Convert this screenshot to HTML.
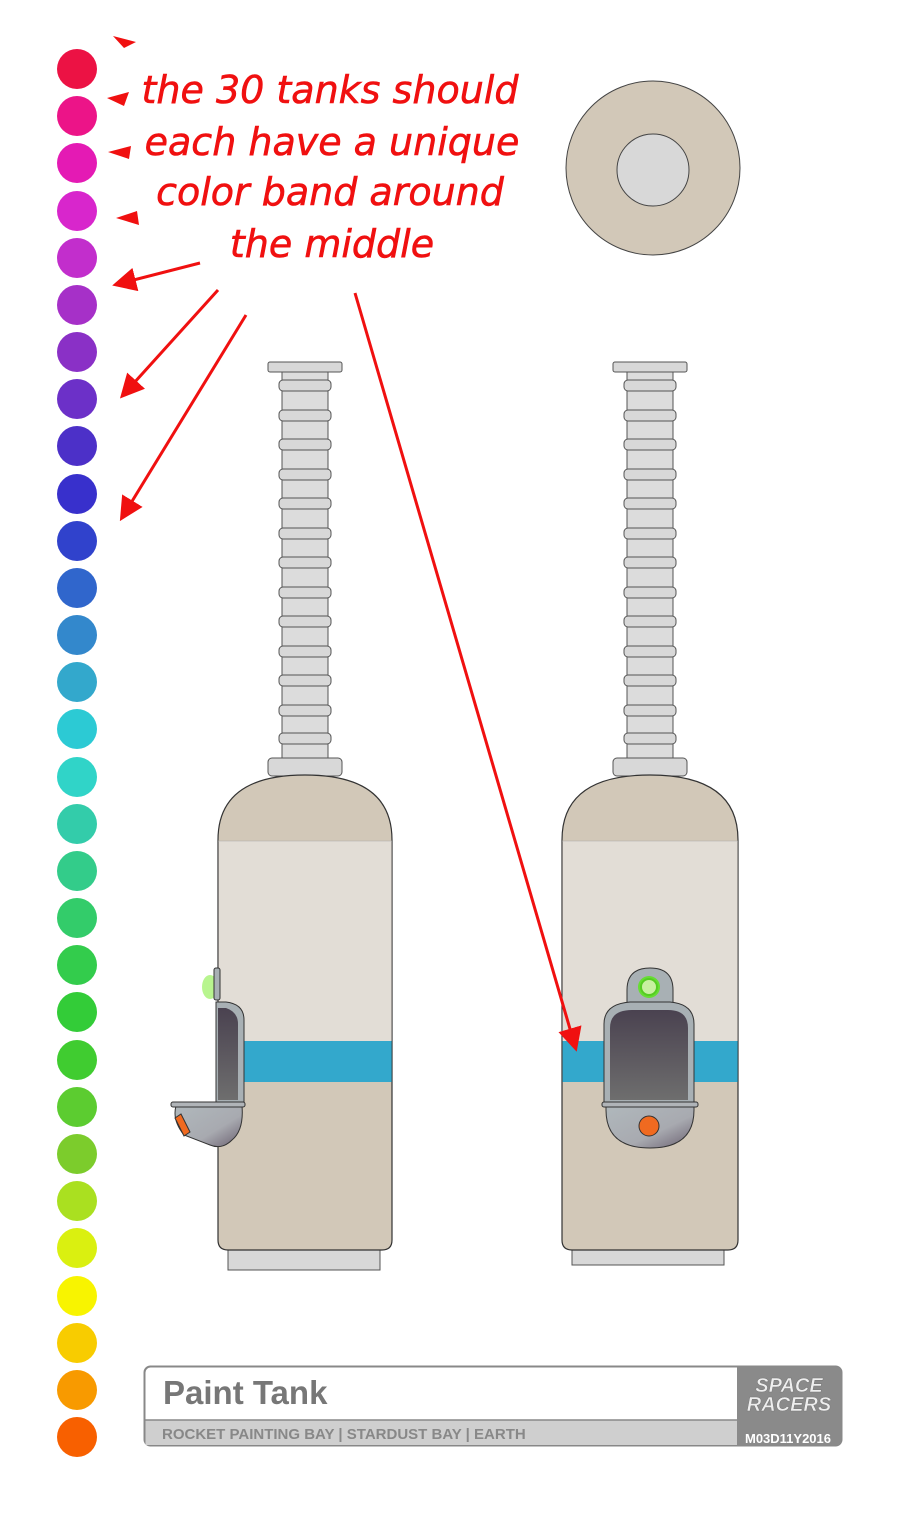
<!DOCTYPE html>
<html><head><style>
body{margin:0;background:#fff;}
svg{display:block}
</style></head><body>
<svg width="897" height="1530" viewBox="0 0 897 1530" xmlns="http://www.w3.org/2000/svg">
<defs>
<marker id="ah" markerWidth="8" markerHeight="8" refX="6" refY="4" orient="auto" markerUnits="strokeWidth">
<path d="M0,0 L8,4 L0,8 z" fill="#f01010"/></marker>
<linearGradient id="win" x1="0" y1="0" x2="0" y2="1"><stop offset="0" stop-color="#4a4250"/><stop offset="1" stop-color="#6e6e6e"/></linearGradient>
<linearGradient id="pod" x1="0" y1="0" x2="1" y2="1"><stop offset="0" stop-color="#b0b8bc"/><stop offset="0.6" stop-color="#a8aab0"/><stop offset="1" stop-color="#6a6070"/></linearGradient>
<g id="spine">
<rect x="-37" y="0" width="74" height="10" rx="2" fill="#d8d8d8" stroke="#555" stroke-width="1"/>
<rect x="-23" y="10" width="46" height="386" fill="#dcdcdc" stroke="#555" stroke-width="1"/>
</g>
<g id="ring"><rect x="-26" y="0" width="52" height="11" rx="4" fill="#d8d8d8" stroke="#555" stroke-width="1"/></g>
</defs>

<!-- dots -->
<g>
<circle cx="77" cy="69" r="20" fill="#ec1244"/>
<circle cx="77" cy="116" r="20" fill="#ec1488"/>
<circle cx="77" cy="163" r="20" fill="#e41ab4"/>
<circle cx="77" cy="211" r="20" fill="#d826cc"/>
<circle cx="77" cy="258" r="20" fill="#c22ecc"/>
<circle cx="77" cy="305" r="20" fill="#a630c8"/>
<circle cx="77" cy="352" r="20" fill="#8a30c6"/>
<circle cx="77" cy="399" r="20" fill="#6c30c8"/>
<circle cx="77" cy="446" r="20" fill="#4c30c8"/>
<circle cx="77" cy="494" r="20" fill="#3830cc"/>
<circle cx="77" cy="541" r="20" fill="#3042cc"/>
<circle cx="77" cy="588" r="20" fill="#3066cc"/>
<circle cx="77" cy="635" r="20" fill="#3388cc"/>
<circle cx="77" cy="682" r="20" fill="#33a8cc"/>
<circle cx="77" cy="729" r="20" fill="#2ccad4"/>
<circle cx="77" cy="777" r="20" fill="#30d4c8"/>
<circle cx="77" cy="824" r="20" fill="#33ccaa"/>
<circle cx="77" cy="871" r="20" fill="#33cc8a"/>
<circle cx="77" cy="918" r="20" fill="#33cc6a"/>
<circle cx="77" cy="965" r="20" fill="#33cc4c"/>
<circle cx="77" cy="1012" r="20" fill="#33cc38"/>
<circle cx="77" cy="1060" r="20" fill="#40cc30"/>
<circle cx="77" cy="1107" r="20" fill="#5ccc30"/>
<circle cx="77" cy="1154" r="20" fill="#7ccc2c"/>
<circle cx="77" cy="1201" r="20" fill="#aae020"/>
<circle cx="77" cy="1248" r="20" fill="#daf010"/>
<circle cx="77" cy="1296" r="20" fill="#f8f400"/>
<circle cx="77" cy="1343" r="20" fill="#f8cc00"/>
<circle cx="77" cy="1390" r="20" fill="#f89a00"/>
<circle cx="77" cy="1437" r="20" fill="#f86000"/>
</g>

<!-- handwritten text -->
<g font-family="'DejaVu Sans', sans-serif" font-style="italic" font-size="38" fill="#f01010" text-anchor="middle" stroke="#f01010" stroke-width="0.6">
<text x="330" y="103">the 30 tanks should</text>
<text x="332" y="155">each have a unique</text>
<text x="330" y="205">color band around</text>
<text x="332" y="257">the middle</text>
</g>

<!-- arrows -->
<g stroke="#f01010" stroke-width="3" fill="none">
<line x1="200" y1="263" x2="118" y2="284" marker-end="url(#ah)"/>
<line x1="218" y1="290" x2="124" y2="394" marker-end="url(#ah)"/>
<line x1="246" y1="315" x2="123" y2="516" marker-end="url(#ah)"/>
</g>
<g fill="#f01010">
<path d="M113,36 L136,42 L124,48 z"/>
<path d="M107,98 L129,92 L124,106 z"/>
<path d="M108,152 L131,146 L129,159 z"/>
<path d="M116,218 L137,211 L139,225 z"/>
</g>

<!-- disc -->
<circle cx="653" cy="168" r="87" fill="#d2c8b8" stroke="#444" stroke-width="1"/>
<circle cx="653" cy="170" r="36" fill="#d8d8d8" stroke="#444" stroke-width="1"/>

<!-- LEFT TANK -->
<g transform="translate(305,362)"><use href="#spine"/></g>
<g transform="translate(305,0)">
<use href="#ring" y="380"/><use href="#ring" y="410"/><use href="#ring" y="439"/><use href="#ring" y="469"/><use href="#ring" y="498"/><use href="#ring" y="528"/><use href="#ring" y="557"/><use href="#ring" y="587"/><use href="#ring" y="616"/><use href="#ring" y="646"/><use href="#ring" y="675"/><use href="#ring" y="705"/><use href="#ring" y="733"/>
<rect x="-37" y="758" width="74" height="18" rx="4" fill="#d8d8d8" stroke="#555"/>
</g>
<rect x="228" y="1245" width="152" height="25" fill="#d8d8d8" stroke="#555"/>
<path d="M218,840 L218,1240 Q218,1250 228,1250 L382,1250 Q392,1250 392,1240 L392,840 Q392,775 305,775 Q218,775 218,840 z" fill="#d2c8b8" stroke="#333" stroke-width="1.2"/>
<rect x="218.6" y="841" width="173" height="200" fill="#e2ddd6"/>
<rect x="218.6" y="1041" width="173" height="41" fill="#33a8cc"/>
<line x1="218" y1="841" x2="392" y2="841" stroke="#aaa" stroke-width="0.6"/>
<!-- side hatch -->
<ellipse cx="210" cy="987" rx="8" ry="12" fill="#88ee44" opacity="0.6"/>
<rect x="214" y="968" width="6" height="32" rx="2" fill="#a8b0b4" stroke="#333"/>
<path d="M216,1002 L226,1002 Q244,1004 244,1020 L244,1102 L216,1102 z" fill="#a8b0b4" stroke="#333"/>
<path d="M218,1008 L226,1008 Q238,1012 238,1024 L238,1100 L218,1100 z" fill="url(#win)"/>
<path d="M176,1106 L242,1106 Q244,1130 232,1140 Q222,1150 210,1145 L184,1135 Q172,1120 176,1106 z" fill="url(#pod)" stroke="#333"/>
<rect x="171" y="1102" width="74" height="5" rx="2" fill="#b0b4b8" stroke="#333"/>
<path d="M175,1118 L181,1114 L190,1132 L184,1136 z" fill="#f06a20" stroke="#333"/>

<!-- RIGHT TANK -->
<g transform="translate(650,362)"><use href="#spine"/></g>
<g transform="translate(650,0)">
<use href="#ring" y="380"/><use href="#ring" y="410"/><use href="#ring" y="439"/><use href="#ring" y="469"/><use href="#ring" y="498"/><use href="#ring" y="528"/><use href="#ring" y="557"/><use href="#ring" y="587"/><use href="#ring" y="616"/><use href="#ring" y="646"/><use href="#ring" y="675"/><use href="#ring" y="705"/><use href="#ring" y="733"/>
<rect x="-37" y="758" width="74" height="18" rx="4" fill="#d8d8d8" stroke="#555"/>
</g>
<rect x="572" y="1245" width="152" height="20" fill="#d8d8d8" stroke="#555"/>
<path d="M562,840 L562,1240 Q562,1250 572,1250 L728,1250 Q738,1250 738,1240 L738,840 Q738,775 650,775 Q562,775 562,840 z" fill="#d2c8b8" stroke="#333" stroke-width="1.2"/>
<rect x="562.6" y="841" width="175" height="200" fill="#e2ddd6"/>
<rect x="562.6" y="1041" width="175" height="41" fill="#33a8cc"/>
<line x1="562" y1="841" x2="738" y2="841" stroke="#aaa" stroke-width="0.6"/>
<path d="M627,1005 L627,990 Q627,968 650,968 Q673,968 673,990 L673,1005 z" fill="#a8b0b4" stroke="#333"/>
<circle cx="649" cy="987" r="11" fill="#66dd33"/>
<circle cx="649" cy="987" r="8" fill="#c8f0a0" stroke="#55cc22" stroke-width="2"/>
<path d="M604,1102 L604,1024 Q604,1004 630,1002 L670,1002 Q694,1004 694,1024 L694,1102 z" fill="#a8b0b4" stroke="#333"/>
<path d="M610,1100 L610,1028 Q610,1010 632,1010 L668,1010 Q688,1010 688,1028 L688,1100 z" fill="url(#win)"/>
<path d="M606,1106 L694,1106 L694,1110 Q694,1148 650,1148 Q606,1148 606,1110 z" fill="url(#pod)" stroke="#333"/>
<rect x="602" y="1102" width="96" height="5" rx="2" fill="#b0b4b8" stroke="#333"/>
<circle cx="649" cy="1126" r="10" fill="#f06a20" stroke="#333"/>

<!-- long arrow on top -->
<line x1="355" y1="293" x2="575" y2="1046" stroke="#f01010" stroke-width="3" marker-end="url(#ah)"/>

<!-- title block -->
<rect x="144.5" y="1366.5" width="697" height="79" rx="6" fill="#fff" stroke="#888" stroke-width="2"/>
<rect x="145.5" y="1420" width="595" height="25" fill="#cfcfcf"/>
<line x1="145" y1="1420" x2="740" y2="1420" stroke="#888" stroke-width="1.5"/>
<path d="M737,1366.5 L835,1366.5 Q841.5,1366.5 841.5,1373 L841.5,1439 Q841.5,1445.5 835,1445.5 L737,1445.5 z" fill="#8a8a8a"/>
<text x="163" y="1404" font-family="'Liberation Sans',sans-serif" font-weight="bold" font-size="33" fill="#777">Paint Tank</text>
<text x="162" y="1439" font-family="'Liberation Sans',sans-serif" font-weight="bold" font-size="15" fill="#888">ROCKET PAINTING BAY | STARDUST BAY | EARTH</text>
<text x="789" y="1392" text-anchor="middle" font-family="'Liberation Sans',sans-serif" font-weight="bold" font-style="italic" font-size="20" fill="#eee" stroke="#777" stroke-width="0.5">SPACE</text>
<text x="789" y="1411" text-anchor="middle" font-family="'Liberation Sans',sans-serif" font-weight="bold" font-style="italic" font-size="20" fill="#eee" stroke="#777" stroke-width="0.5">RACERS</text>
<text x="788" y="1443" text-anchor="middle" font-family="'Liberation Sans',sans-serif" font-weight="bold" font-size="13" fill="#fff">M03D11Y2016</text>
</svg>
</body></html>
